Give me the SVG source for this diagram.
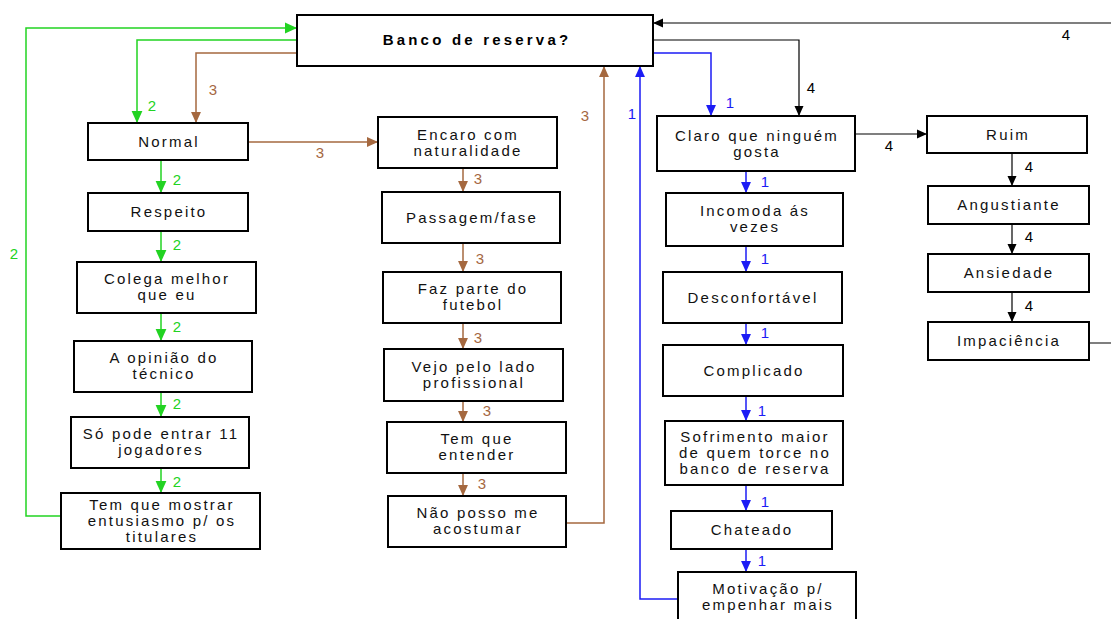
<svg xmlns="http://www.w3.org/2000/svg" width="1111" height="619" viewBox="0 0 1111 619">
  <style>
    .box { fill: #ffffff; stroke: #000000; stroke-width: 2; }
    .t { font-family: "Liberation Sans", Arial, sans-serif; font-size: 15px; letter-spacing: 2.2px; fill: #111111; text-anchor: middle; }
    .title { font-family: "Liberation Sans", Arial, sans-serif; font-size: 15px; font-weight: bold; letter-spacing: 3.2px; fill: #000000; text-anchor: middle; }
    .lbl { font-family: "Liberation Sans", Arial, sans-serif; font-size: 15px; text-anchor: middle; }
    .g { stroke: #22d322; }
    .b { stroke: #a5683f; }
    .u { stroke: #1c1cf5; }
    .k { stroke: #000000; }
    .c { fill: none; stroke-width: 1.5; }
    .c.k { stroke-width: 1.2; }
    .lg { fill: #22d322; }
    .lb { fill: #a5683f; }
    .lu { fill: #1c1cf5; }
    .lk { fill: #000000; }
  </style>
  <defs>
    <marker id="ag" markerUnits="userSpaceOnUse" markerWidth="12" markerHeight="12" viewBox="0 0 10 10" refX="10" refY="5" orient="auto">
      <path d="M0,0.5 L10,5 L0,9.5 Z" fill="#22d322"/>
    </marker>
    <marker id="ab" markerUnits="userSpaceOnUse" markerWidth="11" markerHeight="11" viewBox="0 0 10 10" refX="10" refY="5" orient="auto">
      <path d="M0,0.5 L10,5 L0,9.5 Z" fill="#a5683f"/>
    </marker>
    <marker id="au" markerUnits="userSpaceOnUse" markerWidth="11" markerHeight="11" viewBox="0 0 10 10" refX="10" refY="5" orient="auto">
      <path d="M0,0.5 L10,5 L0,9.5 Z" fill="#1c1cf5"/>
    </marker>
    <marker id="ak" markerUnits="userSpaceOnUse" markerWidth="10" markerHeight="10" viewBox="0 0 10 10" refX="10" refY="5" orient="auto">
      <path d="M0,0.5 L10,5 L0,9.5 Z" fill="#000000"/>
    </marker>
  </defs>

  <rect width="1111" height="619" fill="#ffffff"/>

  <!-- connectors -->
  <g id="connectors">
    <!-- green path (2) -->
    <path class="c g" d="M61,516 H26 V28 H297" marker-end="url(#ag)"/>
    <path class="c g" d="M297,40 H137 V123" marker-end="url(#ag)"/>
    <path class="c g" d="M161,160 V193" marker-end="url(#ag)"/>
    <path class="c g" d="M161,231 V262" marker-end="url(#ag)"/>
    <path class="c g" d="M161,313 V341" marker-end="url(#ag)"/>
    <path class="c g" d="M161,392 V417" marker-end="url(#ag)"/>
    <path class="c g" d="M161,468 V493" marker-end="url(#ag)"/>
    <!-- brown path (3) -->
    <path class="c b" d="M297,53 H196 V123" marker-end="url(#ab)"/>
    <path class="c b" d="M248,142 H378" marker-end="url(#ab)"/>
    <path class="c b" d="M463,168 V192" marker-end="url(#ab)"/>
    <path class="c b" d="M463,243 V272" marker-end="url(#ab)"/>
    <path class="c b" d="M463,323 V349" marker-end="url(#ab)"/>
    <path class="c b" d="M463,401 V422" marker-end="url(#ab)"/>
    <path class="c b" d="M463,473 V496" marker-end="url(#ab)"/>
    <path class="c b" d="M566,523 H604 V66" marker-end="url(#ab)"/>
    <!-- blue path (1) -->
    <path class="c u" d="M653,53 H711 V116" marker-end="url(#au)"/>
    <path class="c u" d="M678,599 H640 V66" marker-end="url(#au)"/>
    <path class="c u" d="M746,171 V193" marker-end="url(#au)"/>
    <path class="c u" d="M746,246 V272" marker-end="url(#au)"/>
    <path class="c u" d="M746,323 V345" marker-end="url(#au)"/>
    <path class="c u" d="M746,396 V421" marker-end="url(#au)"/>
    <path class="c u" d="M746,485 V511" marker-end="url(#au)"/>
    <path class="c u" d="M746,549 V572" marker-end="url(#au)"/>
    <!-- black path (4) -->
    <path class="c k" d="M653,40 H799 V116" marker-end="url(#ak)"/>
    <path class="c k" d="M855,134 H927" marker-end="url(#ak)"/>
    <path class="c k" d="M1012,153 V186" marker-end="url(#ak)"/>
    <path class="c k" d="M1012,224 V254" marker-end="url(#ak)"/>
    <path class="c k" d="M1012,292 V322" marker-end="url(#ak)"/>
    <path class="c k" d="M1089,343 H1118 V23 H653" marker-end="url(#ak)"/>

    <!-- connector labels -->
    <g class="lbl lg">
      <text x="14" y="259">2</text>
      <text x="152" y="111">2</text>
      <text x="177" y="185">2</text>
      <text x="177" y="250">2</text>
      <text x="177" y="332">2</text>
      <text x="177" y="409">2</text>
      <text x="177" y="487">2</text>
    </g>
    <g class="lbl lb">
      <text x="213" y="95">3</text>
      <text x="320" y="158">3</text>
      <text x="478" y="184">3</text>
      <text x="480" y="264">3</text>
      <text x="478" y="343">3</text>
      <text x="487" y="416">3</text>
      <text x="482" y="489">3</text>
      <text x="585" y="121">3</text>
    </g>
    <g class="lbl lu">
      <text x="730" y="108">1</text>
      <text x="632" y="119">1</text>
      <text x="765" y="187">1</text>
      <text x="765" y="264">1</text>
      <text x="765" y="338">1</text>
      <text x="762" y="416">1</text>
      <text x="765" y="507">1</text>
      <text x="762" y="566">1</text>
    </g>
    <g class="lbl lk">
      <text x="811" y="93">4</text>
      <text x="1066" y="40">4</text>
      <text x="889" y="151">4</text>
      <text x="1029" y="172">4</text>
      <text x="1029" y="242">4</text>
      <text x="1029" y="311">4</text>
    </g>
  </g>

  <!-- central question -->
  <g id="banco">
    <rect class="box" x="297" y="15" width="356" height="51"/>
    <text class="title" x="477" y="45">Banco de reserva?</text>
  </g>

  <!-- column 2 (green) -->
  <g id="normal">
    <rect class="box" x="88" y="123" width="160" height="37"/>
    <text class="t" x="169" y="147">Normal</text>
  </g>
  <g id="respeito">
    <rect class="box" x="88" y="193" width="160" height="38"/>
    <text class="t" x="169" y="217">Respeito</text>
  </g>
  <g id="colega">
    <rect class="box" x="77" y="262" width="179" height="51"/>
    <text class="t" x="167" y="284">Colega melhor</text>
    <text class="t" x="167" y="300">que eu</text>
  </g>
  <g id="opiniao">
    <rect class="box" x="74" y="341" width="178" height="51"/>
    <text class="t" x="164" y="363">A opinião do</text>
    <text class="t" x="164" y="379">técnico</text>
  </g>
  <g id="so-pode">
    <rect class="box" x="71" y="417" width="178" height="51"/>
    <text class="t" x="161" y="439">Só pode entrar 11</text>
    <text class="t" x="161" y="455">jogadores</text>
  </g>
  <g id="tem-que-mostrar">
    <rect class="box" x="61" y="493" width="199" height="56"/>
    <text class="t" x="162" y="510">Tem que mostrar</text>
    <text class="t" x="162" y="526">entusiasmo p/ os</text>
    <text class="t" x="162" y="542">titulares</text>
  </g>

  <!-- column 3 (brown) -->
  <g id="encaro">
    <rect class="box" x="378" y="117" width="179" height="51"/>
    <text class="t" x="468" y="140">Encaro com</text>
    <text class="t" x="468" y="156">naturalidade</text>
  </g>
  <g id="passagem">
    <rect class="box" x="382" y="192" width="178" height="51"/>
    <text class="t" x="472" y="223">Passagem/fase</text>
  </g>
  <g id="faz-parte">
    <rect class="box" x="383" y="272" width="178" height="51"/>
    <text class="t" x="473" y="294">Faz parte do</text>
    <text class="t" x="473" y="310">futebol</text>
  </g>
  <g id="vejo">
    <rect class="box" x="384" y="349" width="179" height="52"/>
    <text class="t" x="474" y="372">Vejo pelo lado</text>
    <text class="t" x="474" y="388">profissional</text>
  </g>
  <g id="tem-que-entender">
    <rect class="box" x="387" y="422" width="179" height="51"/>
    <text class="t" x="477" y="444">Tem que</text>
    <text class="t" x="477" y="460">entender</text>
  </g>
  <g id="nao-posso">
    <rect class="box" x="388" y="496" width="178" height="51"/>
    <text class="t" x="478" y="518">Não posso me</text>
    <text class="t" x="478" y="534">acostumar</text>
  </g>

  <!-- column 1 (blue) -->
  <g id="claro">
    <rect class="box" x="657" y="116" width="198" height="55"/>
    <text class="t" x="757" y="141">Claro que ninguém</text>
    <text class="t" x="757" y="157">gosta</text>
  </g>
  <g id="incomoda">
    <rect class="box" x="666" y="193" width="177" height="53"/>
    <text class="t" x="755" y="216">Incomoda ás</text>
    <text class="t" x="755" y="232">vezes</text>
  </g>
  <g id="desconfortavel">
    <rect class="box" x="663" y="272" width="179" height="51"/>
    <text class="t" x="753" y="303">Desconfortável</text>
  </g>
  <g id="complicado">
    <rect class="box" x="663" y="345" width="180" height="51"/>
    <text class="t" x="754" y="376">Complicado</text>
  </g>
  <g id="sofrimento">
    <rect class="box" x="665" y="421" width="178" height="64"/>
    <text class="t" x="755" y="442">Sofrimento maior</text>
    <text class="t" x="755" y="458">de quem torce no</text>
    <text class="t" x="755" y="474">banco de reserva</text>
  </g>
  <g id="chateado">
    <rect class="box" x="671" y="511" width="161" height="38"/>
    <text class="t" x="752" y="535">Chateado</text>
  </g>
  <g id="motivacao">
    <rect class="box" x="678" y="572" width="178" height="56"/>
    <text class="t" x="768" y="594">Motivação p/</text>
    <text class="t" x="768" y="610">empenhar mais</text>
  </g>

  <!-- column 4 (black) -->
  <g id="ruim">
    <rect class="box" x="927" y="116" width="160" height="37"/>
    <text class="t" x="1008" y="140">Ruim</text>
  </g>
  <g id="angustiante">
    <rect class="box" x="928" y="186" width="161" height="38"/>
    <text class="t" x="1009" y="210">Angustiante</text>
  </g>
  <g id="ansiedade">
    <rect class="box" x="928" y="254" width="161" height="38"/>
    <text class="t" x="1009" y="278">Ansiedade</text>
  </g>
  <g id="impaciencia">
    <rect class="box" x="928" y="322" width="161" height="38"/>
    <text class="t" x="1009" y="346">Impaciência</text>
  </g>
</svg>
